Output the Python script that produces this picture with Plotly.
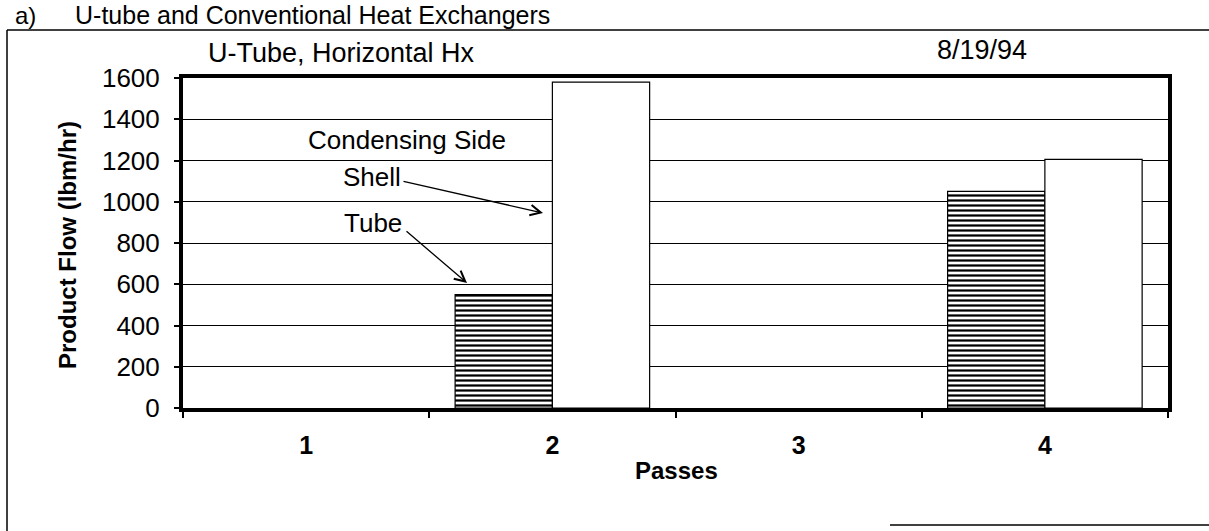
import plotly.graph_objects as go

# Product flow by number of passes, U-tube horizontal heat exchanger
passes = ["1", "2", "3", "4"]
tube_side = [None, 550, None, 1050]
shell_side = [None, 1580, None, 1205]
y_ticks = [0, 200, 400, 600, 800, 1000, 1200, 1400, 1600]

W, H = 1209, 531
L, R, T, B = 183, 41, 78, 123
PW, PH = W - L - R, H - T - B


def px(x):
    return (x - L) / PW


def py(y):
    return (H - B - y) / PH


FONT = "Liberation Sans, Arial, sans-serif"

fig = go.Figure()
fig.add_trace(go.Bar(
    x=passes, y=tube_side, name="Tube",
    marker=dict(color="white", line=dict(color="black", width=1.2),
                pattern=dict(shape="-", size=5, solidity=0.45,
                             fgcolor="black", bgcolor="white", fillmode="replace")),
))
fig.add_trace(go.Bar(
    x=passes, y=shell_side, name="Shell",
    marker=dict(color="white", line=dict(color="black", width=1.2)),
))

fig.update_layout(
    width=W, height=H,
    margin=dict(l=L, r=R, t=T, b=B),
    paper_bgcolor="white", plot_bgcolor="white",
    barmode="group", bargap=0.21, bargroupgap=0,
    showlegend=False,
    font=dict(family=FONT, color="black"),
)
fig.update_xaxes(
    type="category", tickson="boundaries",
    showline=True, linewidth=4, linecolor="black", mirror=True,
    ticks="outside", ticklen=6, tickwidth=1.5, tickcolor="black",
    showgrid=False, ticklabelstandoff=12,
    tickfont=dict(family=FONT, size=25, color="black", weight="bold"),
)
fig.update_yaxes(
    range=[0, 1600], tickvals=y_ticks,
    showline=True, linewidth=4, linecolor="black", mirror=True,
    ticks="outside", ticklen=5, tickwidth=1.5, tickcolor="black",
    showgrid=True, gridcolor="black", gridwidth=1.3, zeroline=False,
    ticklabelstandoff=9,
    tickfont=dict(family=FONT, size=26, color="black"),
)

ann = []
# outer captions
ann.append(dict(text="a)", x=px(13), y=py(15), xanchor="left", yanchor="middle",
                font=dict(size=24)))
ann.append(dict(text="U-tube and Conventional Heat Exchangers", x=px(73), y=py(15),
                xanchor="left", yanchor="middle", font=dict(size=25)))
ann.append(dict(text="U-Tube, Horizontal Hx", x=px(206), y=py(53),
                xanchor="left", yanchor="middle", font=dict(size=27)))
ann.append(dict(text="8/19/94", x=px(982), y=py(50),
                xanchor="center", yanchor="middle", font=dict(size=27)))
# axis titles
ann.append(dict(text="<b>Product Flow (lbm/hr)</b>", x=px(67), y=py(245), textangle=-90,
                xanchor="center", yanchor="middle", font=dict(size=24)))
ann.append(dict(text="<b>Passes</b>", x=px(676), y=py(470),
                xanchor="center", yanchor="middle", font=dict(size=24)))
# labels inside the plot
ann.append(dict(text="Condensing Side", x=px(407), y=py(140),
                xanchor="center", yanchor="middle", font=dict(size=26)))
ann.append(dict(text="Shell", x=px(372), y=py(177),
                xanchor="center", yanchor="middle", font=dict(size=26)))
ann.append(dict(text="Tube", x=px(373), y=py(223),
                xanchor="center", yanchor="middle", font=dict(size=26)))
for a in ann:
    a.update(xref="paper", yref="paper", showarrow=False)

# pointer arrows from the labels to the bars
ann.append(dict(text="", x=px(543), y=py(213), xref="paper", yref="paper",
                ax=402 - 543, ay=181 - 213, showarrow=True, arrowhead=5,
                arrowsize=1.6, arrowwidth=1.3, arrowcolor="black"))
ann.append(dict(text="", x=px(467), y=py(283), xref="paper", yref="paper",
                ax=405 - 467, ay=230 - 283, showarrow=True, arrowhead=5,
                arrowsize=1.6, arrowwidth=1.3, arrowcolor="black"))
fig.update_layout(annotations=ann)

# outer frame around the figure
frame = dict(type="line", xref="paper", yref="paper", line=dict(color="black", width=1.5))
fig.update_layout(shapes=[
    dict(frame, x0=px(7), y0=py(30), x1=px(1215), y1=py(30)),
    dict(frame, x0=px(7), y0=py(30), x1=px(7), y1=py(531)),
    dict(frame, x0=px(890), y0=py(525), x1=px(1215), y1=py(525)),
])

fig.write_html("out.html")
